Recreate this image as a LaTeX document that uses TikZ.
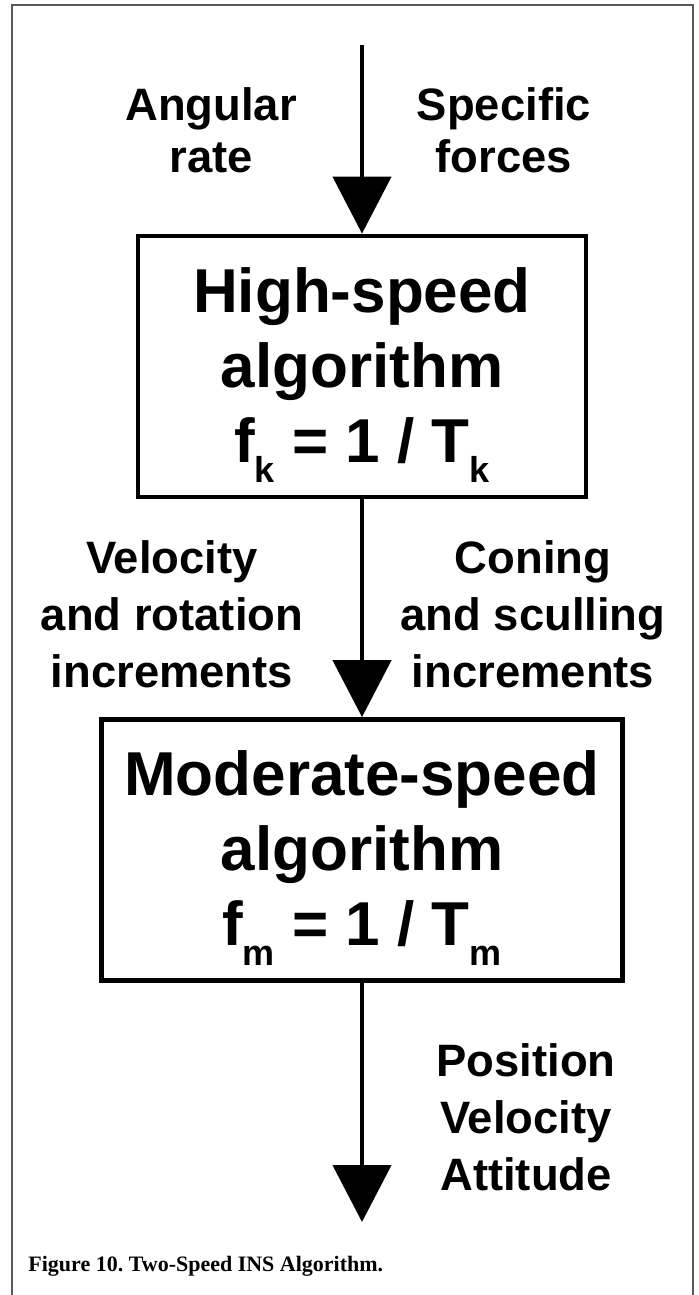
\documentclass[tikz,border=0pt]{standalone}
\usepackage{fontspec}
\setmainfont{Liberation Sans}
\newfontfamily\captionserif{Liberation Serif}
\usetikzlibrary{arrows.meta,positioning}
\newcommand{\lowsub}[1]{\raisebox{-10pt}{\fontsize{18}{18}\selectfont #1}}
\frenchspacing

\begin{document}
\begin{tikzpicture}[x=0.5pt,y=-0.5pt,
    arr/.style={-{Triangle[length=28.5pt,width=29pt]},line width=2.3pt},
    lbl/.style={align=center,anchor=base,inner sep=0pt,
                font=\fontsize{22.7}{28.5}\selectfont\bfseries},
    algbox/.style={draw,line width=2.4pt,inner sep=0pt,align=center,
                   text height=113pt,text depth=17.5pt,
                   font=\fontsize{31}{37.5}\selectfont\bfseries}]
  \useasboundingbox (0,0) rectangle (698,1295);
  %% Frame
  \draw[line width=1pt,black!65] (12,1295) -- (12,5) -- (693,5) -- (693,1295);

  %% Algorithm boxes
  \node[algbox,minimum width=224pt] (hs) at (362,366.5)
        {High-speed\\algorithm\\f\lowsub{k} = 1 / T\lowsub{k}};
  \node[algbox,minimum width=260.5pt] (ms) at (362,850)
        {Moderate-speed\\algorithm\\f\lowsub{m} = 1 / T\lowsub{m}};

  %% Free ends of the signal flow
  \coordinate (in)  at (362,45);
  \coordinate (out) at (362,1222);

  %% Signal labels (placed at the baseline of their last line)
  \node[lbl,font=\fontsize{22.7}{26}\selectfont\bfseries]
        (ar) at (211,172) {Angular\\rate};
  \node[lbl,font=\fontsize{22.7}{26}\selectfont\bfseries]
        (sf) at (504,172) {Specific\\forces};
  \node[lbl] (vr) at (172,687) {Velocity\\and rotation\\increments};
  \node[lbl] (cs) at (533,687) {Coning\\and sculling\\increments};
  \node[lbl] (pva) at (526,1190) {Position\\Velocity\\Attitude};

  \draw[arr] (in) -- (hs);
  \draw[arr] (hs) -- (ms);
  \draw[arr] (ms) -- (out);

  %% Caption
  \node[anchor=base west,inner sep=0pt,
        font=\captionserif\fontsize{11}{13}\selectfont\bfseries]
        (cap) at (28,1271) {Figure 10. Two-Speed INS Algorithm.};
\end{tikzpicture}
\end{document}
